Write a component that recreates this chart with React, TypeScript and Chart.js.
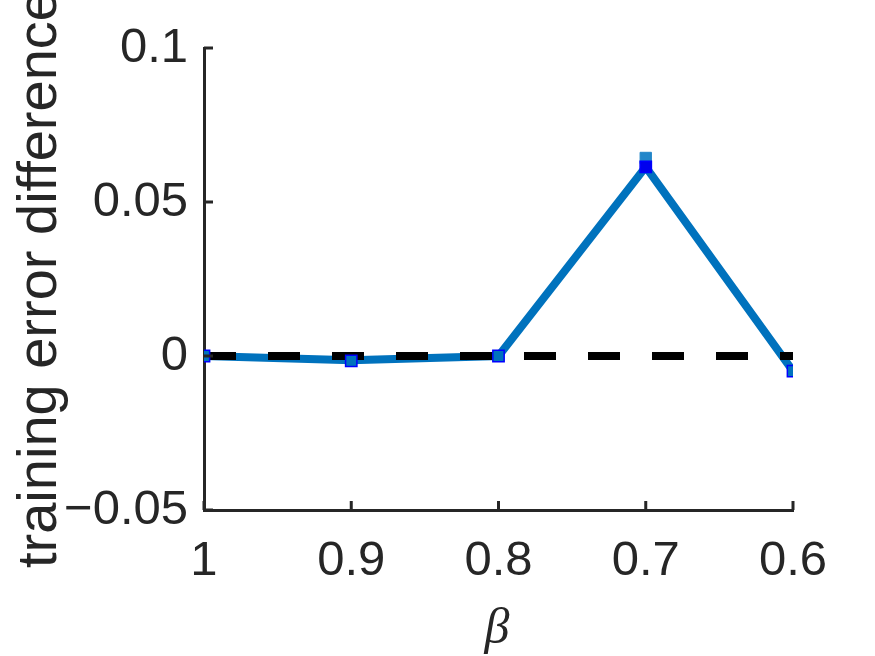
import React, { useEffect, useRef } from "react";
import { Chart, registerables } from "chart.js";

Chart.register(...registerables);

// ---- data ----
const betaValues = [1, 0.9, 0.8, 0.7, 0.6];
const lineValues = [0, -0.0014, 0.0, 0.0614, -0.0049];
const markerValues = [0, -0.0016, 0.0, 0.0614, -0.0049];
const upperMarkerValues = [null, null, null, 0.0643, null];
const zeroLineX = [1, 0.6];
const zeroLineY = [0, 0];
const xTickValues = [1, 0.9, 0.8, 0.7, 0.6];
const xTickLabels = ["1", "0.9", "0.8", "0.7", "0.6"];
const yTickValues = [-0.05, 0, 0.05, 0.1];
const yTickLabels = ["\u22120.05", "0", "0.05", "0.1"];
const yAxisTitle = "training error difference";
const xAxisTitle = "\u03B2";

const AXIS_COLOR = "#262626";
const LINE_BLUE = "#0072BD";

const decorPlugin = {
  id: "decor",
  afterDraw(chart: any) {
    const { ctx, chartArea, scales } = chart;
    const xs = scales.x;
    const ys = scales.y;
    ctx.save();
    // inward ticks
    ctx.strokeStyle = AXIS_COLOR;
    ctx.lineWidth = 3;
    ctx.beginPath();
    yTickValues.forEach((v) => {
      const py = ys.getPixelForValue(v);
      ctx.moveTo(chartArea.left, py);
      ctx.lineTo(chartArea.left + 9, py);
    });
    xTickValues.forEach((v) => {
      const px = xs.getPixelForValue(v);
      ctx.moveTo(px, chartArea.bottom);
      ctx.lineTo(px, chartArea.bottom - 9);
    });
    ctx.stroke();
    // y title
    ctx.fillStyle = AXIS_COLOR;
    ctx.font = "56px 'Liberation Sans', Arial, sans-serif";
    ctx.textAlign = "left";
    ctx.textBaseline = "alphabetic";
    ctx.save();
    ctx.translate(56, 568);
    ctx.rotate(-Math.PI / 2);
    ctx.fillText(yAxisTitle, 0, 0);
    ctx.restore();
    // x title
    ctx.font = "italic 50px 'Liberation Serif', 'DejaVu Serif', serif";
    ctx.textAlign = "center";
    ctx.fillText(xAxisTitle, 497, 643);
    ctx.restore();
  },
};

export default function App() {
  const canvasRef = useRef<HTMLCanvasElement | null>(null);

  useEffect(() => {
    document.body.style.margin = "0";
    const canvas = canvasRef.current;
    if (!canvas) return;
    const tickFont = { family: "'Liberation Sans', Arial, sans-serif", size: 49 };
    const chart = new Chart(canvas, {
      type: "line",
      data: {
        datasets: [
          {
            label: "line",
            data: betaValues.map((b, i) => ({ x: b, y: lineValues[i] })),
            borderColor: LINE_BLUE,
            borderWidth: 8,
            pointRadius: 0,
            fill: false,
            order: 4,
          },
          {
            label: "zero",
            data: zeroLineX.map((b, i) => ({ x: b, y: zeroLineY[i] })),
            borderColor: "#000000",
            borderWidth: 8,
            borderDash: [32, 32],
            pointRadius: 0,
            fill: false,
            order: 3,
          },
          {
            label: "upper",
            data: betaValues.map((b, i) => ({ x: b, y: upperMarkerValues[i] })),
            showLine: false,
            pointStyle: "rect",
            pointRadius: 8,
            pointBackgroundColor: "#2286c9",
            pointBorderColor: "#2286c9",
            pointBorderWidth: 1,
            order: 2,
          },
          {
            label: "markers",
            data: betaValues.map((b, i) => ({ x: b, y: markerValues[i] })),
            showLine: false,
            pointStyle: "rect",
            pointRadius: 8,
            pointBackgroundColor: [LINE_BLUE, LINE_BLUE, LINE_BLUE, "#0000EE", LINE_BLUE],
            pointBorderColor: "#0000FF",
            pointBorderWidth: 1.5,
            order: 1,
          },
        ],
      },
      options: {
        responsive: false,
        animation: false,
        events: [],
        layout: { padding: { top: 48, right: 82, left: 0, bottom: 0 } },
        plugins: {
          legend: { display: false },
          tooltip: { enabled: false },
          title: { display: false },
        },
        scales: {
          x: {
            type: "linear",
            reverse: true,
            min: 0.6,
            max: 1,
            afterBuildTicks: (scale: any) => {
              scale.ticks = xTickValues.map((v) => ({ value: v }));
            },
            afterFit: (scale: any) => {
              scale.height = 146;
            },
            ticks: {
              font: tickFont,
              color: AXIS_COLOR,
              padding: 22,
              maxRotation: 0,
              autoSkip: false,
              callback: (v: any) => {
                const idx = xTickValues.findIndex((t) => Math.abs(t - v) < 1e-9);
                return idx >= 0 ? xTickLabels[idx] : "";
              },
            },
            grid: { display: true, drawOnChartArea: false, drawTicks: false },
            border: { display: true, color: AXIS_COLOR, width: 3 },
          },
          y: {
            type: "linear",
            min: -0.05,
            max: 0.1,
            afterBuildTicks: (scale: any) => {
              scale.ticks = yTickValues.map((v) => ({ value: v }));
            },
            afterFit: (scale: any) => {
              scale.width = 204;
            },
            ticks: {
              font: tickFont,
              color: AXIS_COLOR,
              padding: 16,
              autoSkip: false,
              callback: (v: any) => {
                const idx = yTickValues.findIndex((t) => Math.abs(t - v) < 1e-9);
                return idx >= 0 ? yTickLabels[idx] : "";
              },
            },
            grid: { display: true, drawOnChartArea: false, drawTicks: false },
            border: { display: true, color: AXIS_COLOR, width: 3 },
          },
        },
      },
      plugins: [decorPlugin],
    } as any);
    return () => chart.destroy();
  }, []);

  return (
    <div style={{ width: 875, height: 656, background: "#ffffff" }}>
      <canvas ref={canvasRef} width={875} height={656} />
    </div>
  );
}
